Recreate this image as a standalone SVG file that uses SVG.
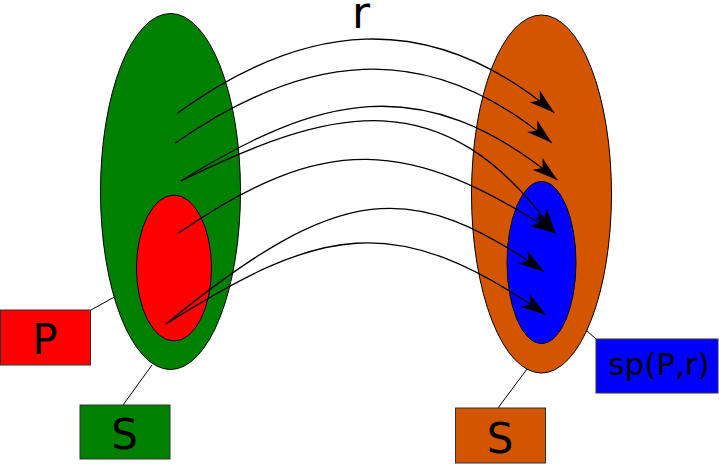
<svg xmlns="http://www.w3.org/2000/svg" width="719" height="464" viewBox="0 0 719 464">
<defs>
<style>
.lbl{font-family:"DejaVu Sans","Liberation Sans",sans-serif;fill:#000}
.box{stroke:#333;stroke-width:1}
.ell{stroke:#000;stroke-width:1}
.lead{stroke:#000;stroke-width:1;fill:none}
.arr{stroke:#000;stroke-width:1.3;fill:none;marker-end:url(#ah)}
</style>
<marker id="ah" markerUnits="userSpaceOnUse" orient="auto" refX="0" refY="0" markerWidth="30" markerHeight="20" viewBox="-25 -9 27 18" overflow="visible">
<path d="M0,0 L-23,-7 L-17,0 L-23,7 Z" fill="#000"/>
</marker>
</defs>
<rect width="719" height="464" fill="#fff"/>
<g id="leaders">
<line class="lead" x1="91" y1="310" x2="136" y2="285"/>
<line class="lead" x1="123" y1="405" x2="152" y2="365"/>
<line class="lead" x1="498" y1="408" x2="527" y2="369"/>
<line class="lead" x1="596" y1="339" x2="567" y2="313"/>
</g>
<g id="setS-left"><ellipse class="ell" cx="170.5" cy="191.5" rx="70" ry="178" fill="#008000"/></g>
<g id="setP"><ellipse class="ell" cx="174" cy="268" rx="37.5" ry="73" fill="#ff0000"/></g>
<g id="setS-right"><ellipse class="ell" cx="541.5" cy="194" rx="70" ry="179" fill="#d45500"/></g>
<g id="setSP"><ellipse class="ell" cx="541.5" cy="262.5" rx="34.5" ry="81" fill="#0000ff"/></g>
<g id="connectors">
<path class="arr" d="M177.3,113.3 C303,22 428,7 554.3,112.7"/>
<path class="arr" d="M175,143.3 C302,54.5 425,35 551.7,142.7"/>
<path class="arr" d="M180.7,181 C317.4,96.2 420.6,67.9 557.3,180"/>
<path class="arr" d="M180.7,181 C330.7,107.5 443,76.5 555.3,233.3"/>
<path class="arr" d="M178.3,233.3 C325.3,131.9 408.3,137.7 555.3,233.3"/>
<path class="arr" d="M166,324 C341,180.5 412.3,179.5 544,271.7"/>
<path class="arr" d="M166,324 C318.8,227.7 393.2,208 546,315"/>
</g>
<g id="label-r"><text class="lbl" x="361" y="27.5" font-size="44" text-anchor="middle">r</text></g>
<g id="box-P">
<rect class="box" x="0.5" y="310" width="90" height="55" fill="#ff0000"/>
<text class="lbl" x="45" y="354" font-size="42" text-anchor="middle">P</text>
</g>
<g id="box-S-left">
<rect class="box" x="80" y="405" width="90" height="54" fill="#008000"/>
<text class="lbl" x="124.5" y="448.5" font-size="42" text-anchor="middle">S</text>
</g>
<g id="box-S-right">
<rect class="box" x="455.5" y="408" width="90" height="55" fill="#d45500"/>
<text class="lbl" x="500" y="452.5" font-size="42" text-anchor="middle">S</text>
</g>
<g id="box-sp">
<rect class="box" x="596" y="339" width="122" height="54" fill="#0000ff"/>
<text class="lbl" x="659" y="375" font-size="31" text-anchor="middle">sp(P,r)</text>
</g>
</svg>
